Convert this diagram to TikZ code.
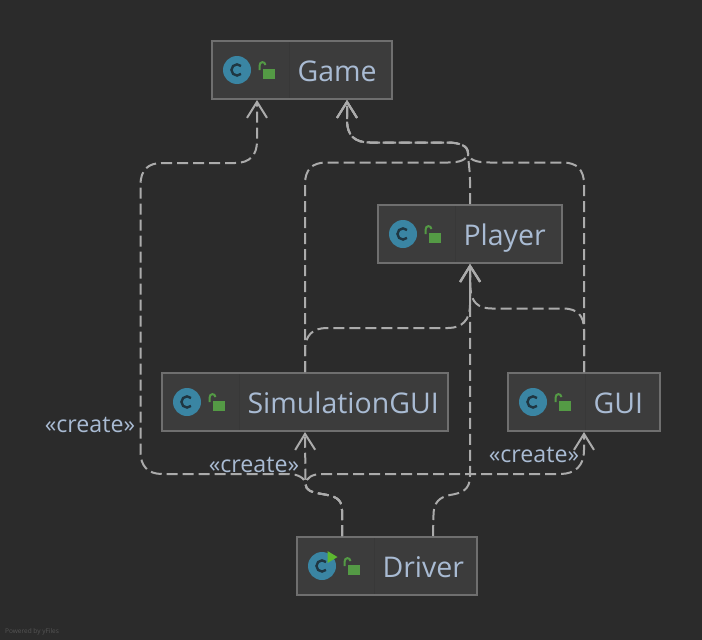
\documentclass[tikz,border=0pt]{standalone}
\usepackage{fontspec}
\setmainfont{Open Sans}
\usetikzlibrary{arrows.meta}
\definecolor{bgc}{HTML}{2B2B2B}
\definecolor{boxfill}{HTML}{3C3C3C}
\definecolor{boxline}{HTML}{6F6F6F}
\definecolor{divc}{HTML}{383838}
\definecolor{txtc}{HTML}{A9BBD3}
\definecolor{linec}{HTML}{ABABAB}
\definecolor{iconc}{HTML}{3A85A3}
\definecolor{glyphc}{HTML}{1F3642}
\definecolor{lockc}{HTML}{549A45}
\definecolor{runc}{HTML}{5DB82F}
\definecolor{footc}{HTML}{555555}
\newcommand{\boxtext}[2]{\makebox[#1pt][l]{\hspace{85.5pt}\raisebox{-11pt}[0pt][0pt]{#2}}}
\tikzset{
  classbox/.style={draw=boxline,fill=boxfill,line width=2pt,inner sep=0pt,minimum height=58pt,text=txtc,font=\fontsize{28.5}{32}\selectfont},
  dep/.style={draw=linec,line width=2pt,dash pattern=on 11pt off 5pt,-{Straight Barb[length=16pt,width=20pt,line width=2pt]}},
  stereo/.style={text=txtc,inner sep=0pt,font=\fontsize{23.2}{27}\selectfont},
  foot/.style={text=footc,inner sep=0pt,anchor=west,font=\fontsize{6.5}{8}\selectfont},
  pics/classicon/.style={code={
    \draw[divc,line width=1pt] (78,-28) -- (78,28);
    \fill[iconc] (26,0) circle (14);
    \draw[glyphc,line width=2.4pt] (30,-4) arc (-45:-315:5.6);
    \fill[lockc] (52,-1.5) rectangle (64,8.5);
    \draw[lockc,line width=2pt] (48.5,0) -- (48.5,-4) .. controls (48.5,-9) and (54,-9) .. (54.5,-5);
  }},
  pics/runmark/.style={code={
    \fill[runc] (31.5,-15) -- (41.5,-9) -- (31.5,-3) -- cycle;
  }}
}
\begin{document}
\begin{tikzpicture}[x=1pt,y=-1pt]
\useasboundingbox[fill=bgc] (0,0) rectangle (702,640);

\node[classbox] (game) at (302,70) {\boxtext{180}{Game}};
\node[classbox] (player) at (470,234) {\boxtext{184}{Player}};
\node[classbox] (sim) at (305,402) {\boxtext{286}{SimulationGUI}};
\node[classbox] (gui) at (584,402) {\boxtext{152}{GUI}};
\node[classbox] (driver) at (387,566) {\boxtext{180}{Driver}};

\pic at (game.west) {classicon};
\pic at (player.west) {classicon};
\pic at (sim.west) {classicon};
\pic at (gui.west) {classicon};
\pic at (driver.west) {classicon};
\pic at (driver.west) {runmark};

\coordinate (mergeLow) at (305.5,484);
\coordinate (mergeTop) at (468,153);

% Driver to Game
\draw[dep] ([xshift=-45pt]driver.north) -- (342,510)
  .. controls (342,498) and (334,496) .. (322,494)
  .. controls (310,492) and (306,490) .. (mergeLow)
  .. controls (305,478) and (298,474) .. (288,474) -- (162,474)
  .. controls (148,474) and (140.5,466) .. (140.5,452) -- (140.5,185)
  .. controls (140.5,170) and (148,163) .. (162,163) -- (235,163)
  .. controls (250,163) and (257,155) .. (257,141) -- ([xshift=-45pt]game.south);
% Driver to SimulationGUI
\draw[dep] ([xshift=-45pt]driver.north) -- (342,510)
  .. controls (342,498) and (334,496) .. (322,494)
  .. controls (310,492) and (306,490) .. (mergeLow) -- (sim.south);
% Driver to GUI
\draw[dep] ([xshift=-45pt]driver.north) -- (342,510)
  .. controls (342,498) and (334,496) .. (322,494)
  .. controls (310,492) and (306,490) .. (mergeLow)
  .. controls (306,478) and (312,474) .. (322,474) -- (560,474)
  .. controls (575,474) and (584,466) .. (584,450) -- (gui.south);
% Driver to Player
\draw[dep] ([xshift=46pt]driver.north) -- (433.5,515)
  .. controls (433.5,502) and (440,497) .. (450,495)
  .. controls (462,493) and (470,490) .. (470,476) -- (player.south);

% SimulationGUI to Player
\draw[dep] (sim.north) -- (305,350)
  .. controls (305,335) and (313,328) .. (327,328) -- (448,328)
  .. controls (462,328) and (470,320) .. (470,305) -- (player.south);
% GUI to Player
\draw[dep] (gui.north) -- (584,330)
  .. controls (584,316) and (578,308.5) .. (563,308.5) -- (492,308.5)
  .. controls (478,308.5) and (471,302) .. (470.5,288) -- (player.south);

% SimulationGUI to Game
\draw[dep] (sim.north) -- (305,184)
  .. controls (305,170) and (312,162.5) .. (326,162.5) -- (448,162.5)
  .. controls (460,162.5) and (467,160) .. (mergeTop)
  .. controls (468,146) and (460,142.5) .. (447,142.5) -- (370,142.5)
  .. controls (354,142.5) and (347,135) .. (347,120) -- ([xshift=45pt]game.south);
% Player to Game
\draw[dep] (player.north) -- (470,180)
  .. controls (470,170) and (468,160) .. (mergeTop)
  .. controls (468,146) and (460,142.5) .. (447,142.5) -- (370,142.5)
  .. controls (354,142.5) and (347,135) .. (347,120) -- ([xshift=45pt]game.south);
% GUI to Game
\draw[dep] (gui.north) -- (584,184)
  .. controls (584,170) and (577,162.5) .. (563,162.5) -- (490,162.5)
  .. controls (476,162.5) and (469,160) .. (mergeTop)
  .. controls (468,146) and (460,142.5) .. (447,142.5) -- (370,142.5)
  .. controls (354,142.5) and (347,135) .. (347,120) -- ([xshift=45pt]game.south);

\node[stereo] (createA) at (90,425) {«create»};
\node[stereo] (createB) at (254,465) {«create»};
\node[stereo] (createC) at (534,455) {«create»};
\node[foot] (powered) at (5,632) {Powered by yFiles};
\end{tikzpicture}
\end{document}
